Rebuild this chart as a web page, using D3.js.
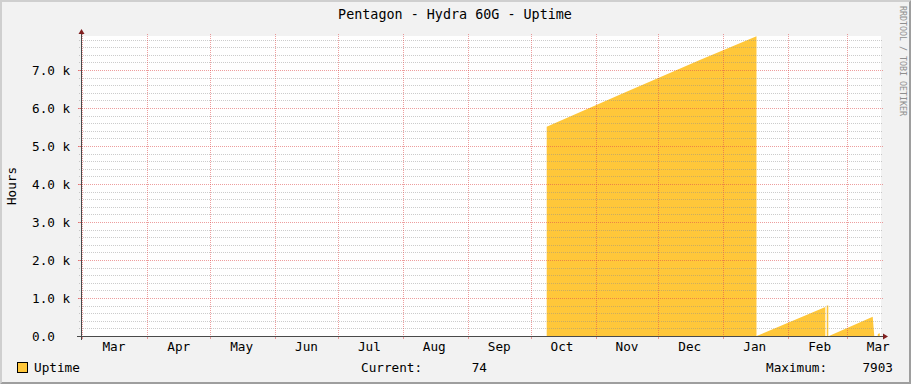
<!DOCTYPE html>
<html><head><meta charset="utf-8">
<script src="https://cdn.jsdelivr.net/npm/d3@7"></script>
<style>html,body{margin:0;padding:0;background:#F2F2F2;}svg{display:block;}text{font-family:"DejaVu Sans Mono",monospace;}</style>
</head><body>
<script>
// ---- data ----
const title = "Pentagon - Hydra 60G - Uptime";
const yLabel = "Hours";
const seriesName = "Uptime";
const timeDomain = ["2014-02-28T07:00:00Z", "2015-03-17T07:00:00Z"];
const sampleTimes = [
  "2014-02-28T07:00:00Z", "2014-10-08T16:00:00Z", "2014-10-08T16:00:00Z",
  "2014-11-15T12:00:00Z", "2014-12-20T12:00:00Z",
  "2015-01-16T20:00:00Z", "2015-01-16T20:00:00Z", "2015-01-16T21:00:00Z",
  "2015-02-18T17:00:00Z", "2015-02-18T17:30:00Z", "2015-02-19T09:00:00Z",
  "2015-02-19T09:00:00Z", "2015-02-20T03:00:00Z", "2015-02-20T03:00:00Z",
  "2015-02-20T11:00:00Z", "2015-03-13T08:00:00Z", "2015-03-14T02:00:00Z",
  "2015-03-15T17:00:00Z", "2015-03-15T19:00:00Z", "2015-03-16T17:00:00Z",
  "2015-03-16T17:00:00Z"
];
const uptimeValues = [
  0, 0, 5510,
  6420, 7260,
  7890, 0, 0,
  760, 0, 0,
  800, 800, 0,
  0, 505, 0,
  0, 55, 74,
  0
];
const yMajorTicks = [0, 1000, 2000, 3000, 4000, 5000, 6000, 7000];
const yTickLabels = ["0.0", "1.0 k", "2.0 k", "3.0 k", "4.0 k", "5.0 k", "6.0 k", "7.0 k"];
const yMinorTicks = [200,400,600,800,1200,1400,1600,1800,2200,2400,2600,2800,3200,3400,3600,3800,4200,4400,4600,4800,5200,5400,5600,5800,6200,6400,6600,6800,7200,7400,7600,7800];
const monthStarts = ["2014-03-01","2014-04-01","2014-05-01","2014-06-01","2014-07-01","2014-08-01","2014-09-01","2014-10-01","2014-11-01","2014-12-01","2015-01-01","2015-02-01","2015-03-01"];
const monthLabelDates = ["2014-03-16","2014-04-16","2014-05-16","2014-06-16","2014-07-16","2014-08-16","2014-09-16","2014-10-16","2014-11-16","2014-12-16","2015-01-16","2015-02-16","2015-03-16"];
const monthLabels = ["Mar","Apr","May","Jun","Jul","Aug","Sep","Oct","Nov","Dec","Jan","Feb","Mar"];
const legendCurrent = "74";
const legendMaximum = "7903";
const yMax = 7895;

// ---- drawing ----
const W = 911, H = 384;
const X0 = 81, X1 = 881, Y0 = 336, Y1 = 36;
const svg = d3.select("body").append("svg").attr("width", W).attr("height", H);
const fs = 12.7;
const gridMinor = "rgba(143,143,143,0.45)";
const gridMajor = "rgba(222,79,79,0.55)";
const fillCol = "#FFC73A";

svg.append("rect").attr("width", W).attr("height", H).attr("fill", "#F2F2F2");
// shades
svg.append("polygon").attr("points", `0,0 ${W},0 ${W-2},2 2,2 2,${H-2} 0,${H}`).attr("fill", "#CFCFCF");
svg.append("polygon").attr("points", `0,${H} ${W},${H} ${W},0 ${W-2},2 ${W-2},${H-2} 2,${H-2}`).attr("fill", "#9E9E9E");

const x = d3.scaleUtc().domain(timeDomain.map(d => new Date(d))).range([X0, X1]);
const y = d3.scaleLinear().domain([0, yMax]).range([Y0, Y1]);

// canvas
svg.append("rect").attr("x", X0).attr("y", Y1).attr("width", X1 - X0).attr("height", Y0 - Y1).attr("fill", "#FFFFFF");

// area
const data = sampleTimes.map((t, i) => ({t: new Date(t), v: uptimeValues[i]}));
svg.append("path").datum(data)
  .attr("d", d3.area().x(d => x(d.t)).y0(y(0)).y1(d => y(d.v)))
  .attr("fill", fillCol);

// grid
const g = svg.append("g").attr("shape-rendering", "crispEdges");
yMinorTicks.forEach(v => {
  const yy = Math.round(y(v)) + 0.5;
  g.append("line").attr("x1", X0 - 2).attr("x2", X1 + 2).attr("y1", yy).attr("y2", yy)
    .attr("stroke", gridMinor).attr("stroke-dasharray", "1,1");
});
yMajorTicks.forEach(v => {
  const yy = Math.round(y(v)) + 0.5;
  g.append("line").attr("x1", X0 - 3).attr("x2", X1 + 2).attr("y1", yy).attr("y2", yy)
    .attr("stroke", gridMajor).attr("stroke-dasharray", "1,1");
  g.append("line").attr("x1", X0 - 3).attr("x2", X0).attr("y1", yy).attr("y2", yy).attr("stroke", gridMajor);
});
monthStarts.forEach(d => {
  const xx = Math.round(x(new Date(d + "T00:00:00Z"))) + 0.5;
  g.append("line").attr("x1", xx).attr("x2", xx).attr("y1", Y1 - 2).attr("y2", Y0 + 2)
    .attr("stroke", gridMajor).attr("stroke-dasharray", "1,1");
  g.append("line").attr("x1", xx).attr("x2", xx).attr("y1", Y0).attr("y2", Y0 + 3).attr("stroke", gridMajor);
});

// axes
g.append("line").attr("x1", X0 - 4).attr("x2", X1 + 4).attr("y1", Y0 + 0.5).attr("y2", Y0 + 0.5).attr("stroke", "#4A4A4A");
g.append("line").attr("x1", X0 + 0.5).attr("x2", X0 + 0.5).attr("y1", Y0 + 4).attr("y2", Y1 - 4).attr("stroke", "#4A4A4A");
svg.append("polygon").attr("points", `${X1+2},${Y0-2.5} ${X1+2},${Y0+3.5} ${X1+7},${Y0+0.5}`).attr("fill", "#802020");
svg.append("polygon").attr("points", `${X0-2.5},${Y1-2} ${X0+3.5},${Y1-2} ${X0+0.5},${Y1-7}`).attr("fill", "#802020");

// y labels
yMajorTicks.forEach((v, i) => {
  svg.append("text").attr("x", 32).attr("y", y(v) + 4.6).attr("font-size", fs).attr("fill", "#000")
    .text(yTickLabels[i]);
});
// month labels
monthLabelDates.forEach((d, i) => {
  svg.append("text").attr("x", x(new Date(d + "T00:00:00Z"))).attr("y", 351).attr("text-anchor", "middle")
    .attr("font-size", fs).attr("fill", "#000").text(monthLabels[i]);
});
// title
svg.append("text").attr("x", 455).attr("y", 19).attr("text-anchor", "middle").attr("font-size", 13.4).attr("fill", "#000").text(title);
// y axis title
svg.append("text").attr("transform", "translate(15.5,186) rotate(-90)").attr("text-anchor", "middle")
  .attr("font-size", fs).attr("fill", "#000").text(yLabel);
// watermark
svg.append("text").attr("transform", "translate(899.5,6) rotate(90)").attr("font-size", 8.3).attr("fill", "#8E8E8E")
  .text("RRDTOOL / TOBI OETIKER");
// legend
svg.append("rect").attr("x", 17.5).attr("y", 362.5).attr("width", 10).attr("height", 10).attr("fill", fillCol).attr("stroke", "#000");
svg.append("text").attr("x", 34).attr("y", 372).attr("font-size", fs).attr("fill", "#000").text(seriesName);
svg.append("text").attr("x", 361).attr("y", 372).attr("font-size", fs).attr("fill", "#000").text("Current:");
svg.append("text").attr("x", 487).attr("y", 372).attr("text-anchor", "end").attr("font-size", fs).attr("fill", "#000").text(legendCurrent);
svg.append("text").attr("x", 766).attr("y", 372).attr("font-size", fs).attr("fill", "#000").text("Maximum:");
svg.append("text").attr("x", 893).attr("y", 372).attr("text-anchor", "end").attr("font-size", fs).attr("fill", "#000").text(legendMaximum);
</script>
</body></html>
